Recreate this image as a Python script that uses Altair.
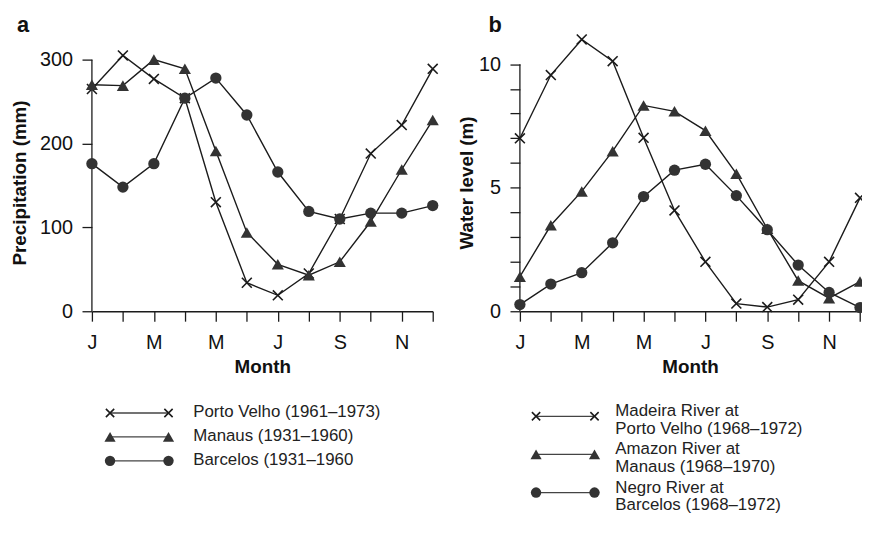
import altair as alt
import pandas as pd

# ---------------- data ----------------
month_letters = ['J', 'F', 'M', 'A', 'M', 'J', 'J', 'A', 'S', 'O', 'N', 'D']
month_index = list(range(12))

precip_series = ["Porto Velho (1961–1973)", "Manaus (1931–1960)", "Barcelos (1931–1960"]
porto_velho_precip = [265, 305, 277, 254, 130, 34, 19, 45, 110, 188, 222, 289]
manaus_precip = [270, 269, 300, 289, 191, 94, 56, 43, 59, 107, 169, 228]
barcelos_precip = [176, 148, 176, 254, 278, 234, 166, 119, 110, 117, 117, 126]

level_series = ["Madeira River at\nPorto Velho (1968–1972)",
                "Amazon River at\nManaus (1968–1970)",
                "Negro River at\nBarcelos (1968–1972)"]
madeira_level = [7.0, 9.56, 11.0, 10.12, 7.02, 4.08, 2.0, 0.31, 0.17, 0.47, 2.0, 4.59]
amazon_level = [1.4, 3.48, 4.85, 6.48, 8.33, 8.09, 7.31, 5.57, 3.34, 1.24, 0.53, 1.2]
negro_level = [0.27, 1.1, 1.56, 2.77, 4.64, 5.71, 5.95, 4.68, 3.3, 1.87, 0.76, 0.15]

precip_ticks = [0, 100, 200, 300]
level_ticks = list(range(11))

# ---------------- styling ----------------
FONT = "Liberation Sans"
INK = "#1b1b1b"
MARK = "#333333"
X_PATH = "M-1,-1L1,1M-1,1L1,-1"
marker_specs = [
    dict(shape=X_PATH, filled=False, size=100, strokeWidth=1.6),
    dict(shape="triangle-up", filled=True, size=150, strokeWidth=0),
    dict(shape="circle", filled=True, size=130, strokeWidth=0),
]

month_arr = "[" + ",".join("'%s'" % m for m in month_letters) + "]"
x_label_expr = "datum.value % 2 == 0 ? " + month_arr + "[datum.value] : ''"


def long_df(series, values):
    rows = []
    for name, vals in zip(series, values):
        for m, v in zip(month_index, vals):
            rows.append({"series": name, "month": m, "value": v})
    return pd.DataFrame(rows)


def make_panel(series, values, ymax, tick_values, axis_top, label_expr, y_title,
               title_padding, letter, letter_dx, width, height):
    df = long_df(series, values)
    xenc = alt.X("month:Q",
                 scale=alt.Scale(domain=[0, 11], nice=False, zero=False),
                 axis=alt.Axis(values=month_index, labelExpr=x_label_expr, title="Month",
                               labelPadding=12, titlePadding=5, labelFlush=False,
                               labelOverlap=False))
    yaxis = alt.Axis(values=tick_values, labelExpr=label_expr, title=y_title, domain=False,
                     labelPadding=9.5, titlePadding=title_padding, labelFlush=False,
                     labelOverlap=False)
    yscale = alt.Scale(domain=[0, ymax], nice=False, zero=True)
    yenc = alt.Y("value:Q", scale=yscale, axis=yaxis)

    layers = []
    axis_df = pd.DataFrame({"lo": [0], "hi": [axis_top]})
    layers.append(alt.Chart(axis_df).mark_rule(color=INK, strokeWidth=1.3).encode(
        x=alt.value(0), y=alt.Y("lo:Q", scale=yscale, axis=yaxis), y2="hi:Q"))
    layers.append(alt.Chart(df).mark_line(color=INK, strokeWidth=1.4).encode(
        x=xenc, y=yenc, detail="series:N"))
    for name, spec in zip(series, marker_specs):
        sub = df[df["series"] == name]
        if spec["filled"]:
            mk = alt.Chart(sub).mark_point(shape=spec["shape"], filled=True, size=spec["size"],
                                           color=MARK, opacity=1)
        else:
            mk = alt.Chart(sub).mark_point(shape=spec["shape"], filled=False, size=spec["size"],
                                           color=INK, strokeWidth=spec["strokeWidth"], opacity=1)
        layers.append(mk.encode(x=xenc, y=yenc))
    layers.append(alt.Chart(pd.DataFrame({"t": [letter]})).mark_text(
        font=FONT, fontSize=22, fontWeight="bold", align="left", baseline="alphabetic",
        color="#111").encode(text="t:N", x=alt.value(letter_dx), y=alt.value(-21.7)))
    return alt.layer(*layers).properties(width=width, height=height)


def make_legend(series, x_range, y_range, width, height, text_dx, text_dy, line_h):
    n = len(series)
    ldf = pd.DataFrame({"label": series, "row": list(range(n)), "x0": [0] * n, "x1": [1] * n})
    xs = alt.Scale(domain=[0, 1], range=x_range)
    ys = alt.Scale(domain=[0, n - 1], range=y_range)
    layers = [alt.Chart(ldf).mark_rule(color="#444", strokeWidth=1.3).encode(
        x=alt.X("x0:Q", scale=xs, axis=None), x2="x1:Q",
        y=alt.Y("row:Q", scale=ys, axis=None))]
    for name, spec in zip(series, marker_specs):
        base = alt.Chart(ldf[ldf["label"] == name]).transform_fold(["x0", "x1"], as_=["end", "xpos"])
        if spec["filled"]:
            mk = base.mark_point(shape=spec["shape"], filled=True, size=spec["size"] * 0.85,
                                 color=MARK, opacity=1)
        else:
            mk = base.mark_point(shape=spec["shape"], filled=False, size=spec["size"] * 0.7,
                                 color=INK, strokeWidth=spec["strokeWidth"], opacity=1)
        layers.append(mk.encode(x=alt.X("xpos:Q", scale=xs, axis=None),
                                y=alt.Y("row:Q", scale=ys, axis=None)))
    layers.append(alt.Chart(ldf).mark_text(
        font=FONT, fontSize=17, align="left", baseline="middle", lineBreak="\n",
        lineHeight=line_h, dx=text_dx, dy=text_dy, color="#222").encode(
        x=alt.X("x1:Q", scale=xs, axis=None), y=alt.Y("row:Q", scale=ys, axis=None),
        text="label:N"))
    return alt.layer(*layers).properties(width=width, height=height)


panel_a = make_panel(precip_series, [porto_velho_precip, manaus_precip, barcelos_precip],
                     307.1, precip_ticks, 300, "datum.label", "Precipitation (mm)",
                     10, "a", -75.7, 344, 260)
panel_b = make_panel(level_series, [madeira_level, amazon_level, negro_level],
                     10.425, level_ticks, 10, "datum.value % 5 == 0 ? datum.label : ''",
                     "Water level (m)", 2, "b", -31.7, 343.3, 260)

legend_a = make_legend(precip_series, [18.3, 77.3], [36.7, 85], 440, 100, 25, -1, 18)
legend_b = make_legend(level_series, [8.3, 67.3], [40, 117], 410, 135, 21, -5, 18)

plots = alt.hconcat(panel_a, panel_b, spacing=16)
legends = alt.hconcat(legend_a, legend_b, spacing=0)

SVG_W, SVG_H = 862, 512
PAD_L, PAD_T = 84.7, 43.7

chart = alt.vconcat(plots, legends, spacing=0).properties(
    autosize=alt.AutoSizeParams(type="none"),
    padding={"left": PAD_L, "top": PAD_T, "right": SVG_W - PAD_L, "bottom": SVG_H - PAD_T}
).configure_view(stroke=None).configure_axis(
    grid=False, labelFont=FONT, labelFontSize=20, labelColor="#111",
    titleFont=FONT, titleFontSize=19, titleFontWeight="bold", titleColor="#111",
    tickColor=INK, domainColor=INK, tickWidth=1.3, domainWidth=1.3, tickSize=10
)

chart.save("out.html", embed_options={"renderer": "svg", "actions": False})
